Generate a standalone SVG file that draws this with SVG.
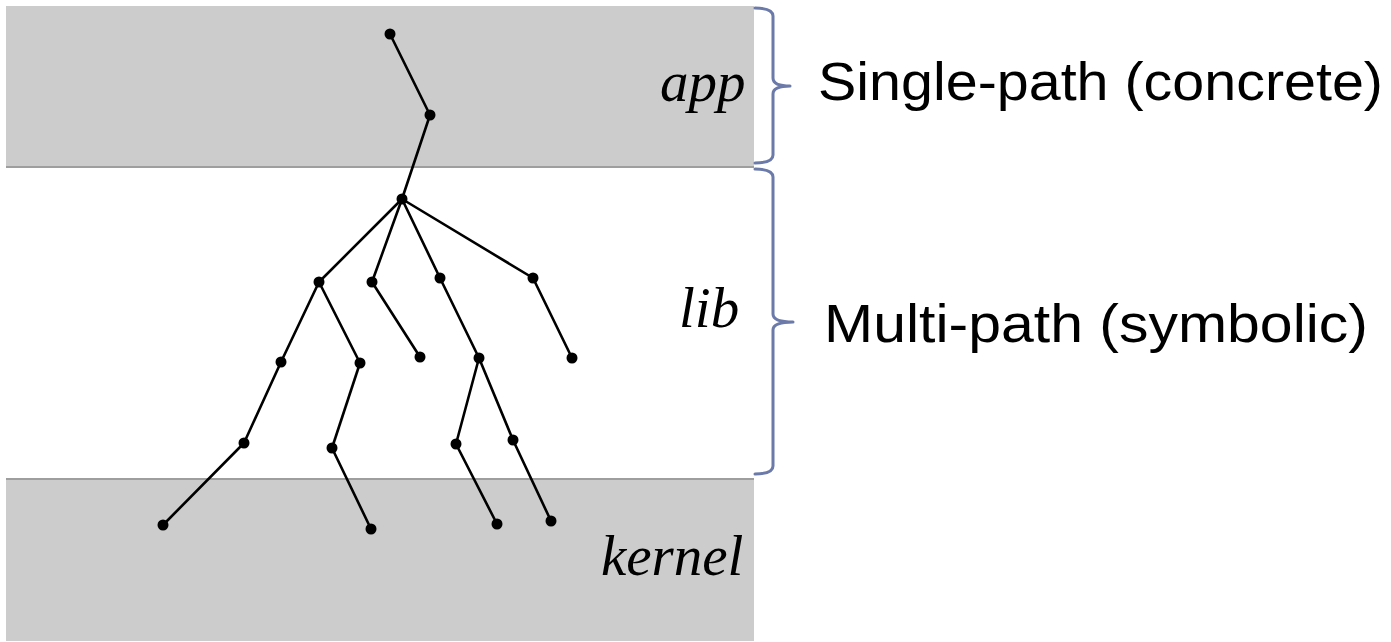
<svg xmlns="http://www.w3.org/2000/svg" width="1391" height="642" viewBox="0 0 1391 642">
  <style>
    .band { fill: #cccccc; }
    .rule { stroke: #9e9e9e; stroke-width: 2; }
    .edge { stroke: #000; stroke-width: 2.6; stroke-linecap: round; fill: none; }
    .dot { fill: #000; }
    .layer { font-family: "Liberation Serif", "Times New Roman", serif; font-style: italic; font-size: 57px; fill: #000; }
    .brace { stroke: #6b7aa8; stroke-width: 3; fill: none; stroke-linejoin: round; stroke-linecap: round; }
    .note { font-family: "Liberation Sans", Arial, sans-serif; font-size: 54px; fill: #000; }
  </style>

  <!-- layer bands -->
  <g id="layers">
    <rect class="band" x="6" y="6" width="748" height="161"/>
    <line class="rule" x1="6" y1="167" x2="754" y2="167"/>
    <rect class="band" x="6" y="478" width="748" height="163"/>
    <line class="rule" x1="6" y1="479" x2="754" y2="479"/>
    <text class="layer" x="660" y="101">app</text>
    <text class="layer" x="679" y="327">lib</text>
    <text class="layer" x="601" y="575">kernel</text>
  </g>

  <!-- execution tree edges -->
  <g id="connectors">
    <line class="edge" x1="390" y1="34" x2="430" y2="115"/>
    <line class="edge" x1="430" y1="115" x2="402" y2="199"/>
    <line class="edge" x1="402" y1="199" x2="319" y2="282"/>
    <line class="edge" x1="402" y1="199" x2="372" y2="282"/>
    <line class="edge" x1="402" y1="199" x2="440" y2="278"/>
    <line class="edge" x1="402" y1="199" x2="533" y2="278"/>
    <line class="edge" x1="319" y1="282" x2="281" y2="362"/>
    <line class="edge" x1="319" y1="282" x2="360" y2="363"/>
    <line class="edge" x1="372" y1="282" x2="420" y2="357"/>
    <line class="edge" x1="440" y1="278" x2="479" y2="358"/>
    <line class="edge" x1="533" y1="278" x2="572" y2="358"/>
    <line class="edge" x1="281" y1="362" x2="244" y2="443"/>
    <line class="edge" x1="360" y1="363" x2="332" y2="448"/>
    <line class="edge" x1="479" y1="358" x2="456" y2="444"/>
    <line class="edge" x1="479" y1="358" x2="513" y2="440"/>
    <line class="edge" x1="244" y1="443" x2="163" y2="525"/>
    <line class="edge" x1="332" y1="448" x2="371" y2="529"/>
    <line class="edge" x1="456" y1="444" x2="497" y2="524"/>
    <line class="edge" x1="513" y1="440" x2="551" y2="521"/>
  </g>

  <!-- tree nodes -->
  <g id="n1"><circle class="dot" cx="390" cy="34" r="5.5"/></g>
  <g id="n2"><circle class="dot" cx="430" cy="115" r="5.5"/></g>
  <g id="n3"><circle class="dot" cx="402" cy="199" r="5.5"/></g>
  <g id="n4"><circle class="dot" cx="319" cy="282" r="5.5"/></g>
  <g id="n5"><circle class="dot" cx="372" cy="282" r="5.5"/></g>
  <g id="n6"><circle class="dot" cx="440" cy="278" r="5.5"/></g>
  <g id="n7"><circle class="dot" cx="533" cy="278" r="5.5"/></g>
  <g id="n8"><circle class="dot" cx="281" cy="362" r="5.5"/></g>
  <g id="n9"><circle class="dot" cx="360" cy="363" r="5.5"/></g>
  <g id="n10"><circle class="dot" cx="420" cy="357" r="5.5"/></g>
  <g id="n11"><circle class="dot" cx="479" cy="358" r="5.5"/></g>
  <g id="n12"><circle class="dot" cx="572" cy="358" r="5.5"/></g>
  <g id="n13"><circle class="dot" cx="244" cy="443" r="5.5"/></g>
  <g id="n14"><circle class="dot" cx="332" cy="448" r="5.5"/></g>
  <g id="n15"><circle class="dot" cx="456" cy="444" r="5.5"/></g>
  <g id="n16"><circle class="dot" cx="513" cy="440" r="5.5"/></g>
  <g id="n17"><circle class="dot" cx="163" cy="525" r="5.5"/></g>
  <g id="n18"><circle class="dot" cx="371" cy="529" r="5.5"/></g>
  <g id="n19"><circle class="dot" cx="497" cy="524" r="5.5"/></g>
  <g id="n20"><circle class="dot" cx="551" cy="521" r="5.5"/></g>

  <!-- braces and their captions -->
  <g id="single-path">
    <path class="brace" d="M755,8 Q773,8 773,16 L773,78 Q773,86 790,86 Q773,86 773,94 L773,155 Q773,163 755,163"/>
    <text class="note" x="818" y="100" textLength="565" lengthAdjust="spacingAndGlyphs">Single-path (concrete)</text>
  </g>
  <g id="multi-path">
    <path class="brace" d="M755,169 Q773,169 773,177 L773,314 Q773,322 793,322 Q773,322 773,330 L773,466 Q773,474 755,474"/>
    <text class="note" x="824" y="342" textLength="544" lengthAdjust="spacingAndGlyphs">Multi-path (symbolic)</text>
  </g>
</svg>
